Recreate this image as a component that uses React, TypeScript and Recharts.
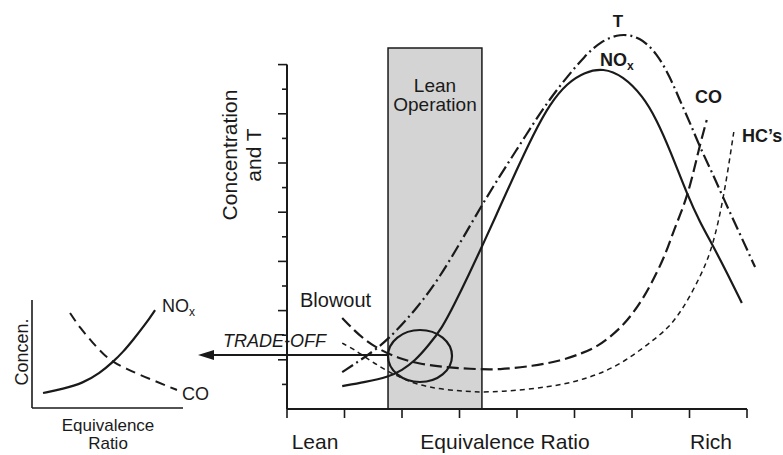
import {
  ComposedChart,
  Line,
  ReferenceArea,
  ReferenceDot,
  ReferenceLine,
  XAxis,
  YAxis,
} from "recharts";

// main chart: x in tick units (Lean -> Rich), y in tick units
const tempCurve = [
  { x: 0.96, y: 1.5 }, { x: 1.36, y: 2.11 }, { x: 1.76, y: 2.8 },
  { x: 2.28, y: 4.15 }, { x: 2.66, y: 5.37 }, { x: 3.04, y: 6.87 },
  { x: 3.39, y: 8.29 }, { x: 3.7, y: 9.47 }, { x: 3.97, y: 10.45 },
  { x: 4.28, y: 11.59 }, { x: 4.57, y: 12.6 }, { x: 4.87, y: 13.5 },
  { x: 5.18, y: 14.35 }, { x: 5.44, y: 14.92 }, { x: 5.79, y: 15.28 },
  { x: 6.14, y: 15.12 }, { x: 6.43, y: 14.47 }, { x: 6.66, y: 13.5 },
  { x: 6.83, y: 12.56 }, { x: 7.01, y: 11.63 }, { x: 7.18, y: 10.65 },
  { x: 7.39, y: 9.63 }, { x: 7.58, y: 8.62 }, { x: 7.86, y: 7.2 },
  { x: 8.14, y: 5.77 },
];

const noxCurve = [
  { x: 0.96, y: 0.93 }, { x: 1.36, y: 1.1 }, { x: 1.76, y: 1.3 },
  { x: 2.0, y: 1.57 }, { x: 2.23, y: 1.97 }, { x: 2.45, y: 2.55 },
  { x: 2.7, y: 3.3 }, { x: 2.92, y: 4.3 }, { x: 3.15, y: 5.4 },
  { x: 3.44, y: 6.85 }, { x: 3.7, y: 8.2 }, { x: 3.97, y: 9.6 },
  { x: 4.28, y: 11.15 }, { x: 4.57, y: 12.4 }, { x: 4.87, y: 13.25 },
  { x: 5.18, y: 13.7 }, { x: 5.5, y: 13.86 }, { x: 5.84, y: 13.54 },
  { x: 6.19, y: 12.72 }, { x: 6.43, y: 11.75 }, { x: 6.66, y: 10.53 },
  { x: 6.97, y: 8.66 }, { x: 7.18, y: 7.6 }, { x: 7.41, y: 6.63 },
  { x: 7.67, y: 5.45 }, { x: 7.91, y: 4.31 },
];

const coCurve = [
  { x: 0.96, y: 3.7 }, { x: 1.18, y: 3.17 }, { x: 1.36, y: 2.8 },
  { x: 1.62, y: 2.4 }, { x: 1.93, y: 2.07 }, { x: 2.31, y: 1.83 },
  { x: 2.7, y: 1.71 }, { x: 3.18, y: 1.63 }, { x: 3.7, y: 1.59 },
  { x: 4.28, y: 1.75 }, { x: 4.75, y: 1.95 }, { x: 5.15, y: 2.28 },
  { x: 5.41, y: 2.56 }, { x: 5.62, y: 2.93 }, { x: 5.83, y: 3.37 },
  { x: 6.02, y: 3.9 }, { x: 6.23, y: 4.63 }, { x: 6.43, y: 5.53 },
  { x: 6.59, y: 6.34 }, { x: 6.71, y: 7.15 }, { x: 6.83, y: 7.85 },
  { x: 6.96, y: 8.66 }, { x: 7.08, y: 9.72 }, { x: 7.18, y: 10.73 },
  { x: 7.3, y: 11.75 },
];

const hcCurve = [
  { x: 0.96, y: 2.68 }, { x: 1.18, y: 2.4 }, { x: 1.36, y: 2.11 },
  { x: 1.62, y: 1.71 }, { x: 1.88, y: 1.38 }, { x: 2.14, y: 1.1 },
  { x: 2.45, y: 0.89 }, { x: 2.83, y: 0.77 }, { x: 3.22, y: 0.69 },
  { x: 3.7, y: 0.69 }, { x: 4.57, y: 0.89 }, { x: 5.15, y: 1.18 },
  { x: 5.74, y: 1.71 }, { x: 6.31, y: 2.68 }, { x: 6.63, y: 3.29 },
  { x: 6.83, y: 3.9 }, { x: 7.01, y: 4.59 }, { x: 7.18, y: 5.37 },
  { x: 7.3, y: 5.98 }, { x: 7.41, y: 6.75 }, { x: 7.5, y: 7.6 },
  { x: 7.58, y: 8.5 }, { x: 7.67, y: 9.72 }, { x: 7.77, y: 11.26 },
];

const xTicks = [0, 1, 2, 3, 4, 5, 6, 7, 8];
const yTicks = [1, 2, 3, 4, 5, 6, 7, 8, 9, 10, 11, 12, 13, 14];
const leanBand = [1.757, 3.39];
const leanBandTop = 14.67;
const tradeOff = { x: 2.313, y: 2.154 };
const arrowFrom = { x: 1.757, y: 2.195 };
const arrowTo = { x: -1.548, y: 2.195 };

// inset (trade-off sketch)
const insetNox = [
  { x: 0.73, y: 1.39 }, { x: 2.05, y: 1.76 }, { x: 3.38, y: 2.31 },
  { x: 4.5, y: 3.24 }, { x: 5.36, y: 4.26 }, { x: 6.03, y: 5.19 },
  { x: 6.69, y: 6.3 }, { x: 7.48, y: 7.69 }, { x: 8.15, y: 9.07 },
];
const insetCo = [
  { x: 2.52, y: 8.8 }, { x: 3.18, y: 7.41 }, { x: 4.04, y: 6.02 },
  { x: 4.7, y: 5.0 }, { x: 5.36, y: 4.26 }, { x: 6.29, y: 3.61 },
  { x: 7.15, y: 3.06 }, { x: 8.15, y: 2.5 }, { x: 8.94, y: 2.04 },
  { x: 9.6, y: 1.67 },
];

const INK = "#1a1a1a";
const FONT = "'Liberation Sans', Arial, sans-serif";

function XTick(props: any) {
  const { x, y } = props;
  return <line x1={x} x2={x} y1={y} y2={y + 9} stroke={INK} strokeWidth={1.6} />;
}

function YTick(props: any) {
  const { x, y, payload } = props;
  const len = payload.value % 2 === 0 ? 9 : 5;
  return <line x1={x - len} x2={x} y1={y} y2={y} stroke={INK} strokeWidth={1.6} />;
}

function Arrow(props: any) {
  const { x1, y1, x2, y2 } = props;
  return (
    <g>
      <line x1={x1} y1={y1} x2={x2 + 12} y2={y2} stroke={INK} strokeWidth={2} />
      <polygon points={`${x2},${y2} ${x2 + 16},${y2 - 5} ${x2 + 16},${y2 + 5}`} fill={INK} />
    </g>
  );
}

function MainChart() {
  return (
    <ComposedChart
      width={783}
      height={455}
      margin={{ top: 0, right: 0, bottom: 0, left: 0 }}
    >
      <XAxis
        type="number"
        dataKey="x"
        domain={[0, 8.626]}
        ticks={xTicks}
        interval={0}
        height={46}
        axisLine={false}
        tickLine={false}
        tickSize={0}
        tickMargin={0}
        tick={XTick}
        allowDataOverflow
      />
      <YAxis
        type="number"
        dataKey="y"
        domain={[0, 16.626]}
        ticks={yTicks}
        interval={0}
        width={287}
        axisLine={false}
        tickLine={false}
        tickSize={0}
        tickMargin={0}
        tick={YTick}
        allowDataOverflow
      />
      <ReferenceArea
        x1={leanBand[0]}
        x2={leanBand[1]}
        y1={0}
        y2={leanBandTop}
        fill="#d4d4d4"
        fillOpacity={1}
        stroke={INK}
        strokeWidth={1.5}
      />
      <ReferenceLine
        segment={[{ x: 0, y: 0 }, { x: 8, y: 0 }]}
        stroke={INK}
        strokeWidth={2}
      />
      <ReferenceLine
        segment={[{ x: 0, y: 0 }, { x: 0, y: 14 }]}
        stroke={INK}
        strokeWidth={2}
      />
      <Line data={hcCurve} dataKey="y" type="basis" stroke={INK} strokeWidth={1.5}
        strokeDasharray="5 4" dot={false} isAnimationActive={false} />
      <Line data={coCurve} dataKey="y" type="basis" stroke={INK} strokeWidth={2.2}
        strokeDasharray="12 5" dot={false} isAnimationActive={false} />
      <Line data={tempCurve} dataKey="y" type="basis" stroke={INK} strokeWidth={2.2}
        strokeDasharray="13 4 2 4" dot={false} isAnimationActive={false} />
      <Line data={noxCurve} dataKey="y" type="basis" stroke={INK} strokeWidth={2.2}
        dot={false} isAnimationActive={false} />
      <ReferenceDot
        x={tradeOff.x}
        y={tradeOff.y}
        r={30}
        shape={(p: any) => (
          <ellipse cx={p.cx} cy={p.cy} rx={32} ry={26} fill="none" stroke={INK} strokeWidth={2.2} />
        )}
      />
      <ReferenceLine
        segment={[arrowFrom, arrowTo]}
        ifOverflow="visible"
        shape={Arrow}
      />
    </ComposedChart>
  );
}

function InsetChart() {
  return (
    <ComposedChart
      width={230}
      height={165}
      margin={{ top: 10, right: 47, bottom: 0, left: 0 }}
    >
      <XAxis type="number" dataKey="x" domain={[0, 10]} height={47} tick={false}
        tickLine={false} axisLine={{ stroke: INK, strokeWidth: 1.6 }} />
      <YAxis type="number" dataKey="y" domain={[0, 10]} width={32} tick={false}
        tickLine={false} axisLine={{ stroke: INK, strokeWidth: 1.6 }} />
      <Line data={insetCo} dataKey="y" type="basis" stroke={INK} strokeWidth={2}
        strokeDasharray="10 6" dot={false} isAnimationActive={false} />
      <Line data={insetNox} dataKey="y" type="basis" stroke={INK} strokeWidth={2.2}
        dot={false} isAnimationActive={false} />
    </ComposedChart>
  );
}

function Labels() {
  const t = { fill: INK, fontFamily: FONT } as const;
  return (
    <svg width={783} height={455} style={{ position: "absolute", left: 0, top: 0, pointerEvents: "none" }}>
      <text {...t} fontSize={21} textAnchor="middle" transform="translate(237,155) rotate(-90)">
        Concentration
      </text>
      <text {...t} fontSize={21} textAnchor="middle" transform="translate(261,155) rotate(-90)">
        and T
      </text>
      <text {...t} fontSize={21} x={315} y={449} textAnchor="middle">Lean</text>
      <text {...t} fontSize={21} x={505} y={449} textAnchor="middle">Equivalence Ratio</text>
      <text {...t} fontSize={21} x={711} y={449} textAnchor="middle">Rich</text>

      <text {...t} fontSize={19} x={435} y={92} textAnchor="middle">Lean</text>
      <text {...t} fontSize={19} x={435} y={111} textAnchor="middle">Operation</text>

      <text {...t} fontSize={20} x={300} y={307}>Blowout</text>
      <text {...t} fontSize={18} x={223} y={347} fontStyle="italic">TRADE-OFF</text>

      <text {...t} fontSize={17} fontWeight="bold" x={618} y={27} textAnchor="middle">T</text>
      <text {...t} fontSize={18} fontWeight="bold" x={600} y={66}>
        NO<tspan fontSize={12} dy={4}>x</tspan>
      </text>
      <text {...t} fontSize={18} fontWeight="bold" x={695} y={103}>CO</text>
      <text {...t} fontSize={18} fontWeight="bold" x={742} y={142}>HC’s</text>

      <text {...t} fontSize={18} x={162} y={312}>
        NO<tspan fontSize={12} dy={4}>x</tspan>
      </text>
      <text {...t} fontSize={18} x={182} y={400}>CO</text>
      <text {...t} fontSize={18} textAnchor="middle" transform="translate(28,352) rotate(-90)">
        Concen.
      </text>
      <text {...t} fontSize={17} x={108} y={431} textAnchor="middle">Equivalence</text>
      <text {...t} fontSize={17} x={108} y={449} textAnchor="middle">Ratio</text>
    </svg>
  );
}

export default function App() {
  return (
    <div
      style={{
        position: "absolute",
        left: 0,
        top: 0,
        width: 783,
        height: 455,
        background: "#fff",
        fontFamily: FONT,
      }}
    >
      <div style={{ position: "absolute", left: 0, top: 0 }}>
        <MainChart />
      </div>
      <div style={{ position: "absolute", left: 0, top: 290 }}>
        <InsetChart />
      </div>
      <Labels />
    </div>
  );
}
